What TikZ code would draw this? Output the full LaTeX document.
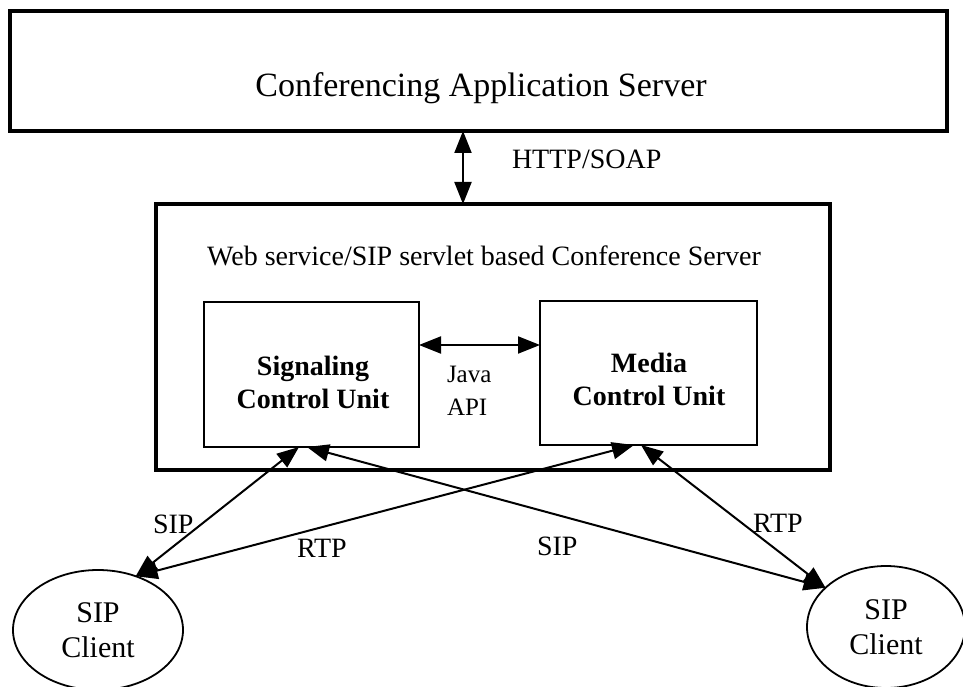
\documentclass[tikz,border=0pt]{standalone}
\usepackage{fontspec}
\setmainfont{Liberation Serif}
\usetikzlibrary{arrows.meta,shapes.geometric}
\begin{document}
\begin{tikzpicture}[x=1pt,y=-1pt,
  every node/.style={inner sep=0pt, outer sep=0pt},
  thickbox/.style={draw, rectangle, line width=3.5pt},
  unitbox/.style={draw, rectangle, line width=2pt},
  client/.style={draw, ellipse, line width=1.8pt, align=center,
    font=\fontsize{30}{35}\selectfont},
  link/.style={line width=2pt,
    {Triangle[length=22pt,width=17pt]}-{Triangle[length=22pt,width=17pt]}},
  txt/.style={font=\fontsize{28}{33}\selectfont},
  lbl/.style={txt, anchor=base west},
]
\useasboundingbox (0,0) rectangle (963,687);

% application server
\node[thickbox, minimum width=937pt, minimum height=120pt] (app) at (478.5,71) {};
\node[anchor=base, font=\fontsize{34}{40}\selectfont] (apptitle) at (481,97)
  {Conferencing Application Server};

% conference server with its two units
\node[thickbox, minimum width=674pt, minimum height=266pt] (conf) at (493,337) {};
\node[txt, anchor=base] (conftitle) at (484,265)
  {Web service/SIP servlet based Conference Server};

\node[unitbox, minimum width=215pt, minimum height=145pt] (sig) at (311.5,374.5) {};
\node[txt, align=center, font=\fontsize{28}{33}\selectfont\bfseries] (sigtext) at (313,382)
  {Signaling\\Control Unit};

\node[unitbox, minimum width=217pt, minimum height=144pt] (media) at (648.5,373) {};
\node[txt, align=center, font=\fontsize{28}{33}\selectfont\bfseries] (mediatext) at (649,379)
  {Media\\Control Unit};

\node[anchor=west, align=left, font=\fontsize{25}{33}\selectfont] (api) at (447,391)
  {Java\\API};

% clients
\node[client, minimum width=170pt, minimum height=120pt] (clientL) at (98,630) {SIP\\Client};
\node[client, minimum width=158pt, minimum height=122pt] (clientR) at (886,627) {SIP\\Client};

% connectors
\coordinate (httpx) at (463,0);
\coordinate (apiy) at (0,345);
\draw[link] (app.south -| httpx) -- (conf.north -| httpx);
\draw[link] (sig.east |- apiy) -- (media.west |- apiy);
\draw[link] ([xshift=-12.5pt]sig.south) -- (clientL.55);
\draw[link] ([xshift=-4.5pt]sig.south) -- (clientR.147);
\draw[link] ([xshift=-14.5pt]media.south) -- (clientL.55);
\draw[link] ([xshift=-7.5pt]media.south) -- (clientR.147);

% protocol labels
\node[lbl] (httplbl) at (512,168) {HTTP/SOAP};
\node[lbl] (sipL) at (153,533) {SIP};
\node[lbl] (rtpL) at (297,557) {RTP};
\node[lbl] (sipM) at (537,555) {SIP};
\node[lbl] (rtpR) at (753,532) {RTP};
\end{tikzpicture}
\end{document}
